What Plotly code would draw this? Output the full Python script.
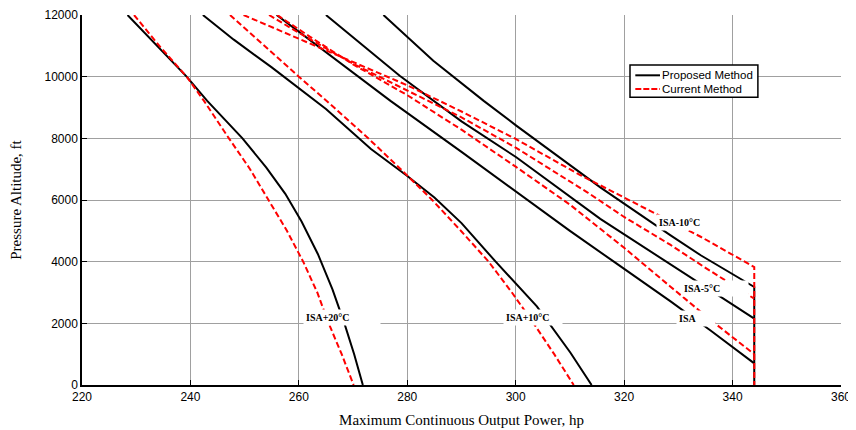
import plotly.graph_objects as go

# ---- data: Proposed Method (black solid) ----
prop_isa_p20_hp = [228.4, 233.5, 239.3, 243.1, 249.6, 254.0, 257.5, 260.5, 263.5, 266.2, 268.4, 270.2, 271.8]
prop_isa_p20_alt = [12000, 11050, 10000, 9215, 8000, 7050, 6200, 5300, 4250, 3100, 2000, 1000, 0]

prop_isa_p10_hp = [242.3, 248.0, 255.0, 265.0, 273.3, 280.0, 285.0, 290.0, 296.3, 303.9, 310.1, 314.0]
prop_isa_p10_alt = [12000, 11200, 10300, 8950, 7656, 6780, 6080, 5250, 4000, 2550, 1045, 0]

prop_isa_hp = [255.9, 266.0, 276.9, 290.0, 300.0, 310.0, 318.1, 328.5, 336.0, 344.0]
prop_isa_alt = [12000, 10650, 9215, 7560, 6270, 5000, 4000, 2720, 1760, 700]

prop_isa_m5_hp = [265.0, 278.6, 290.0, 300.1, 315.6, 327.4, 344.0]
prop_isa_m5_alt = [12000, 10032, 8550, 7386, 5386, 4038, 2155]

prop_isa_m10_hp = [275.6, 284.8, 294.1, 300.1, 311.4, 315.6, 328.5, 334.2, 344.0, 344.0]
prop_isa_m10_alt = [12000, 10518, 9215, 8412, 6954, 6409, 4861, 4200, 3180, 0]

# ---- data: Current Method (red dashed) ----
curr_isa_p20_hp = [229.6, 234.5, 239.3, 242.5, 247.1, 251.0, 254.4, 257.8, 260.8, 263.4, 265.5, 267.9, 270.1]
curr_isa_p20_alt = [12000, 10950, 10000, 9215, 8000, 7000, 6000, 5000, 4000, 3000, 2000, 1000, 0]

curr_isa_p10_hp = [247.3, 253.5, 260.0, 266.5, 272.8, 278.8, 284.6, 290.0, 295.0, 299.3, 303.3, 307.1, 310.7]
curr_isa_p10_alt = [12000, 11020, 10000, 9000, 8000, 7000, 6000, 4980, 4000, 3000, 2000, 1000, 0]

curr_isa_hp = [256.0, 262.0, 270.0, 280.0, 290.0, 300.0, 310.0, 320.0, 328.5, 336.0, 344.0]
curr_isa_alt = [12000, 11300, 10400, 9400, 8280, 7080, 5850, 4450, 3195, 2100, 1000]

curr_isa_m5_hp = [254.5, 260.0, 270.0, 280.0, 290.0, 300.0, 313.2, 320.0, 328.5, 335.0, 344.0]
curr_isa_m5_alt = [12000, 11420, 10420, 9560, 8680, 7700, 6250, 5450, 4550, 3800, 2800]

curr_isa_m10_hp = [249.8, 260.0, 270.0, 280.0, 290.0, 300.0, 312.0, 320.5, 327.0, 334.2, 344.0, 344.0]
curr_isa_m10_alt = [12000, 11230, 10480, 9720, 8870, 7980, 6800, 6030, 5450, 4800, 3825, 0]

# ---- curve labels ----
label_texts = ["ISA+20°C", "ISA+10°C", "ISA-10°C", "ISA-5°C", "ISA"]
label_hp = [268.0, 303.1, 330.9, 336.8, 333.3]
label_alt = [2205, 2205, 5286, 3146, 2173]
label_widths = [72, 54, 48, 62, 34]

# ---- legend entries ----
legend_names = ["Proposed Method", "Current Method"]
legend_colors = ["#000000", "#ff0000"]
legend_dashes = ["solid", "6px,2px"]

x_ticks = [220, 240, 260, 280, 300, 320, 340, 360]
y_ticks = [0, 2000, 4000, 6000, 8000, 10000, 12000]

proposed = [
    (prop_isa_p20_hp, prop_isa_p20_alt),
    (prop_isa_p10_hp, prop_isa_p10_alt),
    (prop_isa_hp, prop_isa_alt),
    (prop_isa_m5_hp, prop_isa_m5_alt),
    (prop_isa_m10_hp, prop_isa_m10_alt),
]
current = [
    (curr_isa_p20_hp, curr_isa_p20_alt),
    (curr_isa_p10_hp, curr_isa_p10_alt),
    (curr_isa_hp, curr_isa_alt),
    (curr_isa_m5_hp, curr_isa_m5_alt),
    (curr_isa_m10_hp, curr_isa_m10_alt),
]

fig = go.Figure()
for i, (xs, ys) in enumerate(proposed):
    fig.add_trace(go.Scatter(
        x=xs, y=ys, mode="lines", name=legend_names[0],
        line=dict(color=legend_colors[0], width=2),
        showlegend=False, legendgroup="p"))
for i, (xs, ys) in enumerate(current):
    fig.add_trace(go.Scatter(
        x=xs, y=ys, mode="lines", name=legend_names[1],
        line=dict(color=legend_colors[1], width=2, dash="6px,3px"),
        showlegend=False, legendgroup="c"))

for t, xh, ya, w in zip(label_texts, label_hp, label_alt, label_widths):
    fig.add_annotation(
        x=xh, y=ya, xref="x", yref="y", text="<b>" + t + "</b>", showarrow=False,
        font=dict(family="Liberation Serif", size=10, color="#000000"),
        bgcolor="#ffffff", width=w, align="left", borderpad=2)

# compact MATLAB-style legend box (in plot-area fractions)
lx0, lx1, ly0, ly1 = 0.722, 0.8905, 0.778, 0.865
fig.add_shape(type="rect", xref="x domain", yref="y domain",
              x0=lx0, x1=lx1, y0=ly0, y1=ly1,
              line=dict(color="#000000", width=1.5), fillcolor="#ffffff", layer="above")
row_y = [0.837, 0.800]
for name, col, dsh, ry in zip(legend_names, legend_colors, legend_dashes, row_y):
    fig.add_shape(type="line", xref="x domain", yref="y domain",
                  x0=0.729, x1=0.7615, y0=ry, y1=ry,
                  line=dict(color=col, width=2, dash=dsh), layer="above")
    fig.add_annotation(x=0.763, y=ry, xref="x domain", yref="y domain",
                       text=name, showarrow=False, xanchor="left", yanchor="middle",
                       borderpad=0,
                       font=dict(family="Liberation Sans", size=11.5, color="#000000"))

# the page body has an 8px margin, so the figure is sized/offset to compensate
fig.update_layout(
    width=848, height=422,
    margin=dict(l=74, r=15, t=7, b=45, autoexpand=False),
    paper_bgcolor="#ffffff", plot_bgcolor="#ffffff",
    font=dict(family="Liberation Sans", size=12, color="#000000"),
    showlegend=False,
)
fig.update_xaxes(
    range=[220, 360], tickvals=x_ticks, ticktext=[str(v) for v in x_ticks],
    showgrid=True, gridcolor="#a0a0a0", gridwidth=1, zeroline=False,
    showline=True, linecolor="#000000", linewidth=1.5,
    ticks="inside", ticklen=5, tickcolor="#000000", automargin=False,
    tickfont=dict(family="Liberation Sans", size=12),
    title=dict(text="Maximum Continuous Output Power, hp",
               font=dict(family="Liberation Serif", size=15), standoff=11),
)
fig.update_yaxes(
    range=[0, 12000], tickvals=y_ticks, ticktext=[str(v) for v in y_ticks],
    showgrid=True, gridcolor="#a0a0a0", gridwidth=1, zeroline=False,
    showline=True, linecolor="#000000", linewidth=1.5,
    ticks="inside", ticklen=5, tickcolor="#000000", automargin=False,
    tickfont=dict(family="Liberation Sans", size=12),
    title=dict(text="Pressure Altitude, ft",
               font=dict(family="Liberation Serif", size=15), standoff=19),
)

fig.write_html("out.html")
